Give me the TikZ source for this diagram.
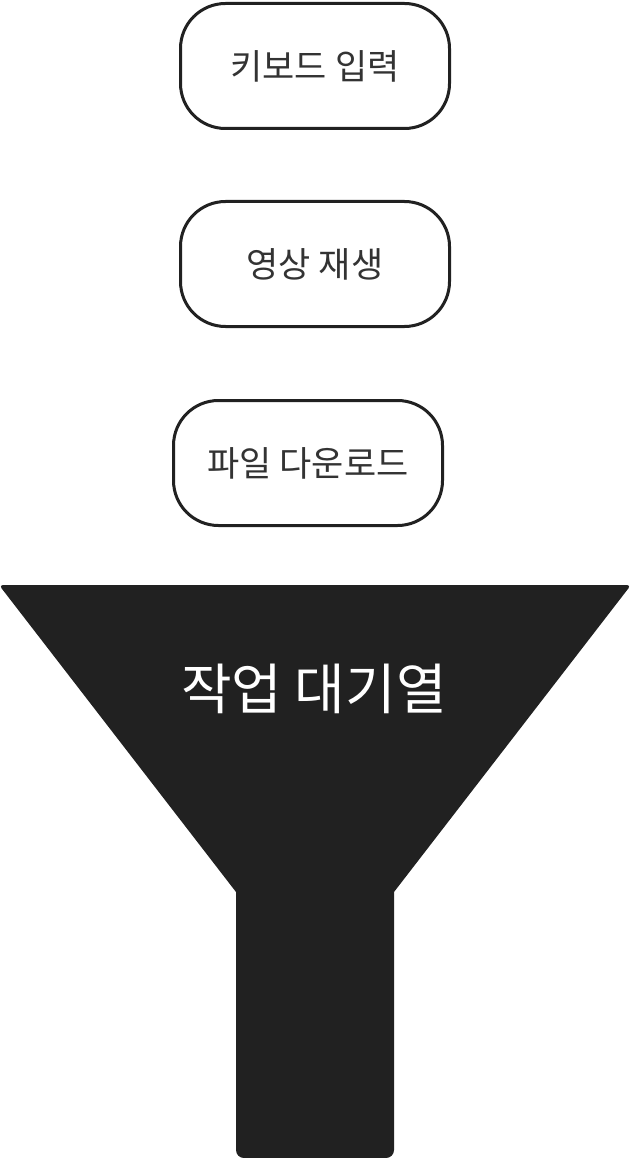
\documentclass[tikz,border=0pt]{standalone}
\usepackage{fontspec}
\setmainfont{Noto Sans CJK KR}
\begin{document}
\begin{tikzpicture}[x=1pt,y=-1pt,
  taskbox/.style={draw=black!87, line width=3pt, rounded corners=45pt, fill=white,
    minimum width=269pt, minimum height=125pt, inner sep=0pt,
    text=black!80, font=\fontsize{35}{40}\selectfont},
  funnelfill/.style={fill=black!87}]
\useasboundingbox (0,0) rectangle (630,1158);
\node[taskbox] (kb) at (315,66) {키보드 입력};
\node[taskbox] (vid) at (315,264) {영상 재생};
\node[taskbox] (dl) at (308,463) {파일 다운로드};
\fill[funnelfill] (236,892) -- (236,1150) [rounded corners=8pt] -- (236,1158) -- (394,1158) [sharp corners] -- (394,1150)
  -- (394,892) [rounded corners=4pt] -- (631,585) -- (-1,585) [sharp corners] -- (236,892) -- cycle;
\node[text=white, font=\fontsize{55}{62}\selectfont] (queue) at (314,689) {작업 대기열};
\end{tikzpicture}
\end{document}
